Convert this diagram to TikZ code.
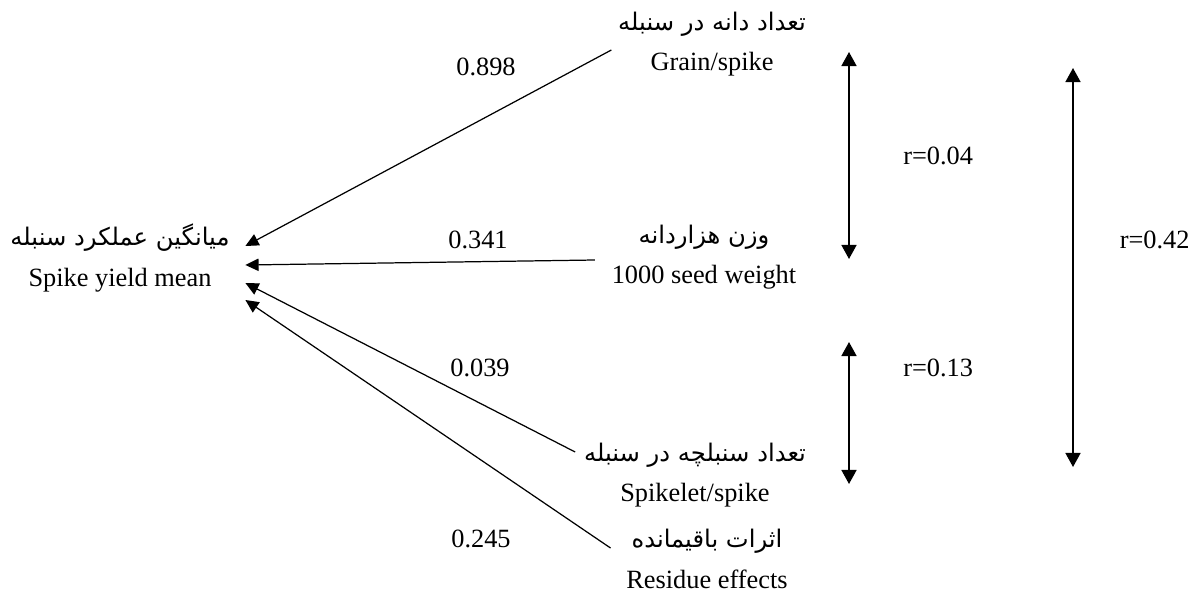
\documentclass[tikz,border=0pt]{standalone}
\usepackage{fontspec}
\setmainfont{Liberation Serif}
\newfontfamily\farsi[Script=Arabic, Scale=0.92]{DejaVu Sans}
\TeXXeTstate=1
\usetikzlibrary{arrows.meta}
\newcommand{\fa}[1]{{\farsi\beginR #1\endR}}

\begin{document}
\begin{tikzpicture}[x=0.02cm, y=-0.02cm,
                    trait/.style = {align=center, inner sep=2pt},
                    effect/.style = {-{Triangle[length=7.5pt, width=7pt]}, line width=0.7pt},
                    correlation/.style = {{Triangle[length=8pt, width=8.5pt]}-{Triangle[length=8pt, width=8.5pt]}, line width=1.1pt},
                    font=\fontsize{15pt}{23pt}\selectfont]
  \useasboundingbox (0, 0) rectangle (1197, 592);

  % Traits.
  \node at (120, 258) [trait, name=YieldMean] {\fa{میانگین عملکرد سنبله}\\Spike yield mean};
  \node at (712, 44) [trait, name=GrainSpike] {\fa{تعداد دانه در سنبله}\\Grain/spike};
  \node at (704, 257) [trait, name=SeedWeight] {\fa{وزن هزاردانه}\\1000 seed weight};
  \node at (695, 475) [trait, name=SpikeletSpike] {\fa{تعداد سنبلچه در سنبله}\\Spikelet/spike};
  \node at (707, 559) [trait, name=Residue] {\fa{اثرات باقیمانده}\\Residue effects};

  % Path coefficients.
  \node at (486, 67) [name=GrainCoef] {0.898};
  \node at (478, 240) [name=WeightCoef] {0.341};
  \node at (480, 368) [name=SpikeletCoef] {0.039};
  \node at (481, 539) [name=ResidueCoef] {0.245};

  % Direct effects.
  \draw [effect] ([shift={(-3, 6)}]GrainSpike.west)
                 to ([shift={(12, -12)}]YieldMean.east);
  \draw [effect] ([shift={(-13, 3)}]SeedWeight.west)
                 to ([shift={(12, 7)}]YieldMean.east);
  \draw [effect] ([shift={(-5, -23)}]SpikeletSpike.west)
                 to ([shift={(12, 25)}]YieldMean.east);
  \draw [effect] ([shift={(-12, -11)}]Residue.west)
                 to ([shift={(12, 42)}]YieldMean.east);

  % Correlations.
  \coordinate (GrainTop) at (849, 52);
  \coordinate (WeightBottom) at (849, 259);
  \coordinate (SpikeletTop) at (849, 342);
  \coordinate (SpikeletBottom) at (849, 484);
  \coordinate (OuterTop) at (1073, 68);
  \coordinate (OuterBottom) at (1073, 467);

  \draw [correlation] (GrainTop)
                      to node [right=0.95cm] {r=0.04}
                      (WeightBottom);
  \draw [correlation] (SpikeletTop)
                      to node [pos=0.18, right=0.95cm] {r=0.13}
                      (SpikeletBottom);
  \draw [correlation] (OuterTop)
                      to node [pos=0.43, right=0.8cm] {r=0.42}
                      (OuterBottom);
\end{tikzpicture}
\end{document}
